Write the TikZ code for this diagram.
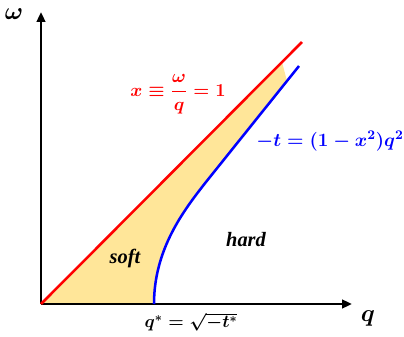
\RequirePackage{fix-cm}
\documentclass[tikz,border=0pt]{standalone}
\usepackage{amsmath}
\usepackage{fontspec}
\newfontfamily\regionfont{Liberation Serif}
\usetikzlibrary{arrows.meta}
\definecolor{softfill}{HTML}{FFE699}
\definecolor{photon}{HTML}{FF0000}
\definecolor{boundary}{HTML}{0000FF}
\tikzset{
  % axes and curves share one weight
  axis/.style={line width=1.8pt, black, -{Triangle[length=7pt,width=6pt]}},
  curve/.style={line width=1.8pt, draw=#1},
  lbl/.style={font=\fontsize{13}{16}\selectfont\boldmath, text=#1, inner sep=1pt},
  region/.style={font=\fontsize{14.5}{17}\regionfont\bfseries\itshape}
}
\begin{document}
\begin{tikzpicture}[x=0.025cm,y=0.025cm]

\useasboundingbox (-41,-33) rectangle (363,304);

% Key points
\coordinate (O) at (0,0);
\coordinate (qstar) at (113,0);
\coordinate (knee) at (165,122);
\coordinate (redtop) at (261,262);
\coordinate (bluetop) at (258,238);

% Soft region (drawn first)
\fill[softfill] (O) -- (241,242) -- (246,223) -- (knee)
  .. controls (143,94) and (113,55) .. (qstar) -- cycle;

% Axes
\draw[axis] (O) -- (0,292);
\draw[axis] (O) -- (311,0);

% Curves (on top of the fill)
\draw[curve=boundary] (qstar) .. controls (113,55) and (143,94) .. (knee) -- (bluetop);
\draw[curve=photon] (O) -- (redtop);

% Labels
\node[lbl=black, font=\LARGE\boldmath] (omega) at (-27,290) {$\omega$};
\node[lbl=black, font=\LARGE\boldmath] (qlabel) at (327,-14) {$q$};
\node[lbl=black, font=\fontsize{12.6}{15}\selectfont\boldmath] (qstarlabel) at (150,-18) {$q^* = \sqrt{-t^*}$};
\node[lbl=photon] (xline) at (137,210) {$x \equiv \dfrac{\omega}{q} = 1$};
\node[lbl=boundary, font=\fontsize{13.4}{16}\selectfont\boldmath] (tline) at (289,163) {$-t = (1-x^2)q^2$};
\node[region] (soft) at (84,46) {soft};
\node[region] (hard) at (205,64) {hard};

\end{tikzpicture}
\end{document}
